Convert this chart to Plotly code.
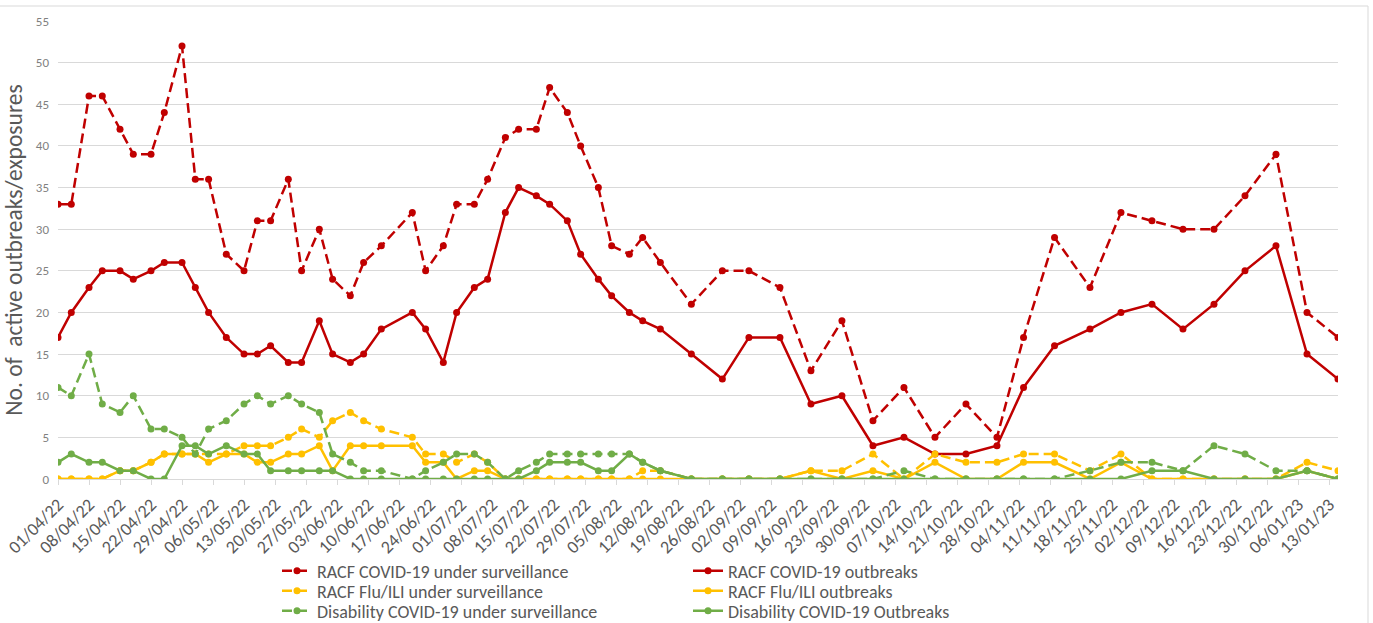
import plotly.graph_objects as go

dates = [
    "2022-04-01", "2022-04-04", "2022-04-08", "2022-04-11", "2022-04-15", "2022-04-18",
    "2022-04-22", "2022-04-25", "2022-04-29", "2022-05-02", "2022-05-05", "2022-05-09",
    "2022-05-13", "2022-05-16", "2022-05-19", "2022-05-23", "2022-05-26", "2022-05-30",
    "2022-06-02", "2022-06-06", "2022-06-09", "2022-06-13", "2022-06-20", "2022-06-23",
    "2022-06-27", "2022-06-30", "2022-07-04", "2022-07-07", "2022-07-11", "2022-07-14",
    "2022-07-18", "2022-07-21", "2022-07-25", "2022-07-28", "2022-08-01", "2022-08-04",
    "2022-08-08", "2022-08-11", "2022-08-15", "2022-08-22", "2022-08-29", "2022-09-04",
    "2022-09-11", "2022-09-18", "2022-09-25", "2022-10-02", "2022-10-09", "2022-10-16",
    "2022-10-23", "2022-10-30", "2022-11-05", "2022-11-12", "2022-11-20", "2022-11-27",
    "2022-12-04", "2022-12-11", "2022-12-18", "2022-12-25", "2023-01-01", "2023-01-08",
    "2023-01-15",
]

racf_covid_surv = [
    33, 33, 46, 46, 42, 39, 39, 44, 52, 36,
    36, 27, 25, 31, 31, 36, 25, 30, 24, 22,
    26, 28, 32, 25, 28, 33, 33, 36, 41, 42,
    42, 47, 44, 40, 35, 28, 27, 29, 26, 21,
    25, 25, 23, 13, 19, 7, 11, 5, 9, 5,
    17, 29, 23, 32, 31, 30, 30, 34, 39, 20,
    17,
]
racf_covid_outb = [
    17, 20, 23, 25, 25, 24, 25, 26, 26, 23,
    20, 17, 15, 15, 16, 14, 14, 19, 15, 14,
    15, 18, 20, 18, 14, 20, 23, 24, 32, 35,
    34, 33, 31, 27, 24, 22, 20, 19, 18, 15,
    12, 17, 17, 9, 10, 4, 5, 3, 3, 4,
    11, 16, 18, 20, 21, 18, 21, 25, 28, 15,
    12,
]
racf_flu_surv = [
    0, 0, 0, 0, 1, 1, 2, 3, 3, 3,
    3, 3, 4, 4, 4, 5, 6, 5, 7, 8,
    7, 6, 5, 3, 3, 2, 3, 2, 0, 0,
    0, 0, 0, 0, 0, 0, 0, 1, 1, 0,
    0, 0, 0, 1, 1, 3, 0, 3, 2, 2,
    3, 3, 1, 3, 0, 0, 0, 0, 0, 2,
    1,
]
racf_flu_outb = [
    0, 0, 0, 0, 1, 1, 2, 3, 3, 3,
    2, 3, 3, 2, 2, 3, 3, 4, 1, 4,
    4, 4, 4, 2, 2, 0, 1, 1, 0, 0,
    0, 0, 0, 0, 0, 0, 0, 0, 0, 0,
    0, 0, 0, 1, 0, 1, 0, 2, 0, 0,
    2, 2, 0, 2, 0, 0, 0, 0, 0, 1,
    0,
]
dis_covid_surv = [
    11, 10, 15, 9, 8, 10, 6, 6, 5, 3,
    6, 7, 9, 10, 9, 10, 9, 8, 3, 2,
    1, 1, 0, 1, 2, 3, 3, 2, 0, 1,
    2, 3, 3, 3, 3, 3, 3, 2, 1, 0,
    0, 0, 0, 0, 0, 0, 1, 0, 0, 0,
    0, 0, 1, 2, 2, 1, 4, 3, 1, 1,
    0,
]
dis_covid_outb = [
    2, 3, 2, 2, 1, 1, 0, 0, 4, 4,
    3, 4, 3, 3, 1, 1, 1, 1, 1, 0,
    0, 0, 0, 0, 0, 0, 0, 0, 0, 0,
    1, 2, 2, 2, 1, 1, 3, 2, 1, 0,
    0, 0, 0, 0, 0, 0, 0, 0, 0, 0,
    0, 0, 0, 0, 1, 1, 0, 0, 0, 1,
    0,
]

series_names = [
    "RACF COVID-19 under surveillance",
    "RACF COVID-19 outbreaks",
    "RACF Flu/ILI under surveillance",
    "RACF Flu/ILI outbreaks",
    "Disability COVID-19 under surveillance",
    "Disability COVID-19 Outbreaks",
]
series_values = [racf_covid_surv, racf_covid_outb, racf_flu_surv,
                 racf_flu_outb, dis_covid_surv, dis_covid_outb]
series_colors = ["#C00000", "#C00000", "#FFC000", "#FFC000", "#70AD47", "#70AD47"]
series_dash = ["10px,5px", "solid", "10px,5px", "solid", "10px,5px", "solid"]

FONT = "Calibri, Carlito, Lato, sans-serif"
GREY = "#595959"

# pixel helpers for layout (plot area 58..1338 x, 21..479 y)
L, R, T, B = 58, 35, 21, 144
W, H = 1373, 623
PW, PH = W - L - R, H - T - B


def px_x(p):
    return (p - L) / PW


def px_y(p):
    return (H - B - p) / PH


# legend grid: two columns, three rows (one legend per entry)
leg_cols_px = [277, 688, 277, 688, 277, 688]
leg_rows_px = [571, 571, 591, 591, 611, 611]
leg_ids = ["legend", "legend2", "legend3", "legend4", "legend5", "legend6"]

fig = go.Figure()
for name, vals, col, dash, lg in zip(series_names, series_values, series_colors,
                                     series_dash, leg_ids):
    fig.add_trace(go.Scatter(
        x=dates, y=vals, name=name, mode="lines+markers",
        line=dict(color=col, width=2.5, dash=dash),
        marker=dict(color=col, size=7),
        legend=lg,
    ))

legend_layouts = {}
for lg, cx, cy in zip(leg_ids, leg_cols_px, leg_rows_px):
    legend_layouts[lg] = dict(
        x=px_x(cx), y=px_y(cy), xanchor="left", yanchor="middle",
        orientation="v", font=dict(size=18, color=GREY, family=FONT),
        tracegroupgap=0, bgcolor="rgba(0,0,0,0)", itemwidth=30,
    )

fig.update_layout(
    width=W, height=H,
    margin=dict(l=L, r=R, t=T, b=B, autoexpand=False),
    paper_bgcolor="white", plot_bgcolor="white",
    font=dict(family=FONT, color=GREY),
    showlegend=True,
    xaxis=dict(
        type="date",
        range=["2022-04-01", "2023-01-15"],
        tick0="2022-04-01", dtick=7 * 86400000,
        tickformat="%d/%m/%y", tickangle=-45,
        tickfont=dict(size=18, color=GREY, family=FONT),
        ticklabelstandoff=2,
        showgrid=False, showline=True, linecolor="#D9D9D9", linewidth=1,
        ticks="outside", tickcolor="#D9D9D9", ticklen=5,
        zeroline=False, fixedrange=True, automargin=False,
    ),
    yaxis=dict(
        range=[0, 55], dtick=5, tick0=0,
        tickfont=dict(size=13, color="#7F7F7F", family=FONT),
        ticklabelstandoff=8,
        showgrid=True, gridcolor="#D9D9D9", gridwidth=1,
        zeroline=False, showline=False, ticks="", automargin=False,
        title=dict(text="No. of  active outbreaks/exposures",
                   font=dict(size=23.5, color=GREY, family=FONT), standoff=7),
    ),
    shapes=[dict(type="rect", xref="paper", yref="paper",
                 x0=px_x(-3), x1=px_x(1368), y0=px_y(660), y1=px_y(6),
                 line=dict(color="#D9D9D9", width=1), layer="below")],
    **legend_layouts,
)

fig.write_html(
    "out.html",
    config={"displayModeBar": False},
    post_script="document.body.style.margin='0px';document.body.style.overflow='hidden';",
)
